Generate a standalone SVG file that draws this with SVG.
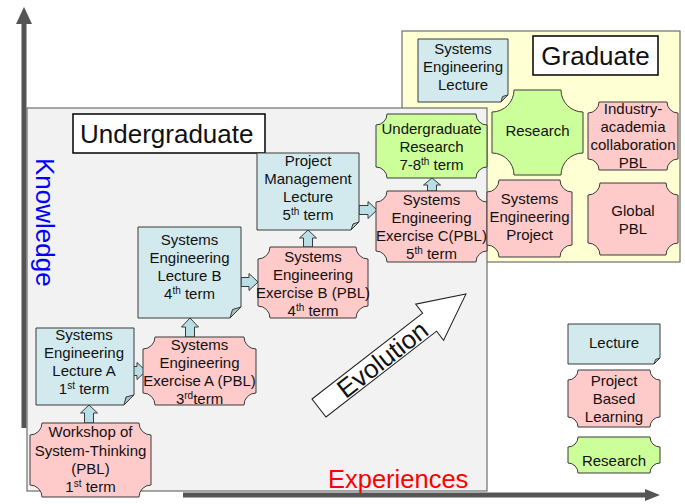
<svg xmlns="http://www.w3.org/2000/svg" width="685" height="504" viewBox="0 0 685 504">
<style>
text{font-family:"Liberation Sans",Arial,sans-serif;fill:#111;}
.t{font-size:15px;text-anchor:middle;}
.lec{fill:#d2eaed;stroke:#3a3a3a;stroke-width:1;}
.fold{fill:#a9c0c3;stroke:#3a3a3a;stroke-width:1;}
.pbl{fill:#ffcaca;stroke:#3a3a3a;stroke-width:1;}
.res{fill:#ccff99;stroke:#3a3a3a;stroke-width:1;}
.conn{fill:#b9dfe6;stroke:#3a3a3a;stroke-width:1;}
.axis{fill:#555;stroke:none;}
.lbl{fill:#fff;stroke:#000;stroke-width:1.5;}
.big{font-size:26px;}
</style>
<rect width="685" height="504" fill="#fff"/>
<!-- axes -->
<g id="axes">
<rect class="axis" x="21.5" y="22" width="5" height="406"/>
<polygon class="axis" points="24,7 32,24 16,24"/>
<rect class="axis" x="183" y="492.5" width="465" height="5"/>
<polygon class="axis" points="660,495 645,489 645,501"/>
</g>
<!-- graduate area -->
<g id="graduate-area">
<rect x="402" y="31" width="278" height="231" fill="#ffffd4" stroke="#6e6e6e" stroke-width="1.2"/>
<rect class="lbl" x="533" y="36" width="125" height="39"/>
<text class="big" x="595.5" y="65" text-anchor="middle">Graduate</text>
</g>
<!-- undergraduate area -->
<g id="undergraduate-area">
<rect x="27" y="108" width="460" height="383" fill="#f2f2f2" stroke="#6e6e6e" stroke-width="1.2"/>
<rect class="lbl" x="73" y="114" width="192" height="39"/>
<text class="big" x="80" y="143">Undergraduate</text>
</g>
<text x="36" y="158" transform="rotate(90 36 158)" style="font-size:26px;fill:#0000ff;">Knowledge</text>
<text x="328" y="488" style="font-size:25.5px;fill:#ff0000;">Experiences</text>
<!-- evolution arrow -->
<g id="evolution" transform="translate(319,408) rotate(-37.8)">
<path d="M0,-11.4 H140 V-22.8 L186,0 L140,22.8 V11.4 H0 Z" fill="#fff" stroke="#222" stroke-width="1"/>
<text x="80" y="9.5" text-anchor="middle" style="font-size:26px;">Evolution</text>
</g>
<!-- connectors -->
<g id="connectors">
<path class="conn" d="M89,405 L97.5,413 H93.5 V423 H84.5 V413 H80.5 Z"/>
<path class="conn" d="M190,318 L198.5,327 H194.5 V337 H185.5 V327 H181.5 Z"/>
<path class="conn" d="M308,230 L316.5,238 H312.5 V247 H303.5 V238 H299.5 Z"/>
<path class="conn" d="M432,178 L440.5,185 H436.5 V191 H427.5 V185 H423.5 Z"/>
<path class="conn" d="M146,371 L137,362.5 V366.5 H133 V375.5 H137 V379.5 Z"/>
<path class="conn" d="M258,282 L249,273.5 V277.5 H241 V286.5 H249 V290.5 Z"/>
<path class="conn" d="M377,210 L368,201.5 V205.5 H359 V214.5 H368 V218.5 Z"/>
</g>
<!-- undergraduate nodes -->
<g id="workshop">
<path class="pbl" d="M42,423 H139 A12 12 0 0 0 151,435 V485 A12 12 0 0 0 139,497 H42 A12 12 0 0 0 30,485 V435 A12 12 0 0 0 42,423 Z"/>
<text class="t" x="90.5" y="437">Workshop of</text>
<text class="t" x="90.5" y="456">System-Thinking</text>
<text class="t" x="90.5" y="474">(PBL)</text>
<text class="t" x="90.5" y="492">1<tspan font-size="10" dy="-5">st</tspan><tspan dy="5"> term</tspan></text>
</g>
<g id="lecture-a">
<path class="lec" d="M36,328 H134 V395 L124,405 H36 Z"/>
<path class="fold" d="M134,395 L124,405 L126,397 Z"/>
<text class="t" x="84" y="340">Systems</text>
<text class="t" x="84" y="358">Engineering</text>
<text class="t" x="84" y="376">Lecture A</text>
<text class="t" x="84" y="394">1<tspan font-size="10" dy="-5">st</tspan><tspan dy="5"> term</tspan></text>
</g>
<g id="exercise-a">
<path class="pbl" d="M155,337 H244 A12 12 0 0 0 256,349 V393 A12 12 0 0 0 244,405 H155 A12 12 0 0 0 143,393 V349 A12 12 0 0 0 155,337 Z"/>
<text class="t" x="199.5" y="350">Systems</text>
<text class="t" x="199.5" y="368">Engineering</text>
<text class="t" x="199.5" y="386">Exercise A (PBL)</text>
<text class="t" x="199.5" y="404">3<tspan font-size="10" dy="-5">rd</tspan><tspan dy="5">term</tspan></text>
</g>
<g id="lecture-b">
<path class="lec" d="M138,227 H241 V307 L230,318 H138 Z"/>
<path class="fold" d="M241,307 L230,318 L232.5,309.5 Z"/>
<text class="t" x="189.5" y="245">Systems</text>
<text class="t" x="189.5" y="263">Engineering</text>
<text class="t" x="189.5" y="281">Lecture B</text>
<text class="t" x="189.5" y="299">4<tspan font-size="10" dy="-5">th</tspan><tspan dy="5"> term</tspan></text>
</g>
<g id="exercise-b">
<path class="pbl" d="M270,247 H356 A12 12 0 0 0 368,259 V306 A12 12 0 0 0 356,318 H270 A12 12 0 0 0 258,306 V259 A12 12 0 0 0 270,247 Z"/>
<text class="t" x="313" y="262">Systems</text>
<text class="t" x="313" y="280">Engineering</text>
<text class="t" x="313" y="298">Exercise B (PBL)</text>
<text class="t" x="313" y="316">4<tspan font-size="10" dy="-5">th</tspan><tspan dy="5"> term</tspan></text>
</g>
<g id="pm-lecture">
<path class="lec" d="M257,153 H359 V222 L351,230 H257 Z"/>
<path class="fold" d="M359,222 L351,230 L353,224 Z"/>
<text class="t" x="308" y="166">Project</text>
<text class="t" x="308" y="184">Management</text>
<text class="t" x="308" y="202">Lecture</text>
<text class="t" x="308" y="220">5<tspan font-size="10" dy="-5">th</tspan><tspan dy="5"> term</tspan></text>
</g>
<g id="exercise-c">
<path class="pbl" d="M387,191 H476 A11 11 0 0 0 487,202 V251 A11 11 0 0 0 476,262 H387 A11 11 0 0 0 376,251 V202 A11 11 0 0 0 387,191 Z"/>
<text class="t" x="431.5" y="205">Systems</text>
<text class="t" x="431.5" y="223">Engineering</text>
<text class="t" x="431.5" y="241">Exercise C(PBL)</text>
<text class="t" x="431.5" y="259">5<tspan font-size="10" dy="-5">th</tspan><tspan dy="5"> term</tspan></text>
</g>
<g id="ug-research">
<path class="res" d="M387,114 H476 A11 11 0 0 0 487,125 V167 A11 11 0 0 0 476,178 H387 A11 11 0 0 0 376,167 V125 A11 11 0 0 0 387,114 Z"/>
<text class="t" x="431.5" y="134">Undergraduate</text>
<text class="t" x="431.5" y="152">Research</text>
<text class="t" x="431.5" y="170">7-8<tspan font-size="10" dy="-5">th</tspan><tspan dy="5"> term</tspan></text>
</g>
<!-- graduate nodes -->
<g id="grad-lecture">
<path class="lec" d="M418,39 H508 V95 L501,102 H418 Z"/>
<path class="fold" d="M508,95 L501,102 L502.5,96.5 Z"/>
<text class="t" x="463" y="54">Systems</text>
<text class="t" x="463" y="72">Engineering</text>
<text class="t" x="463" y="90">Lecture</text>
</g>
<g id="grad-research">
<path class="res" d="M514,90 H561 A22 22 0 0 0 583,112 V153 A22 22 0 0 0 561,175 H514 A22 22 0 0 0 492,153 V112 A22 22 0 0 0 514,90 Z"/>
<text class="t" x="537.5" y="136">Research</text>
</g>
<g id="industry-pbl">
<path class="pbl" d="M599,102 H667 A11 11 0 0 0 678,113 V159 A11 11 0 0 0 667,170 H599 A11 11 0 0 0 588,159 V113 A11 11 0 0 0 599,102 Z"/>
<text class="t" x="633" y="114">Industry-</text>
<text class="t" x="633" y="132">academia</text>
<text class="t" x="633" y="150">collaboration</text>
<text class="t" x="633" y="168">PBL</text>
</g>
<g id="se-project">
<path class="pbl" d="M499,180 H560 A12 12 0 0 0 572,192 V245 A12 12 0 0 0 560,257 H499 A12 12 0 0 0 487,245 V192 A12 12 0 0 0 499,180 Z"/>
<text class="t" x="529.5" y="204">Systems</text>
<text class="t" x="529.5" y="222">Engineering</text>
<text class="t" x="529.5" y="240">Project</text>
</g>
<g id="global-pbl">
<path class="pbl" d="M600,183 H666 A12 12 0 0 0 678,195 V243 A12 12 0 0 0 666,255 H600 A12 12 0 0 0 588,243 V195 A12 12 0 0 0 600,183 Z"/>
<text class="t" x="633" y="216">Global</text>
<text class="t" x="633" y="234">PBL</text>
</g>
<!-- legend -->
<g id="legend-lecture">
<path class="lec" d="M568,324 H660 V358 L654,364 H568 Z"/>
<path class="fold" d="M660,358 L654,364 L655.5,359.5 Z"/>
<text class="t" x="614" y="348">Lecture</text>
</g>
<g id="legend-pbl">
<path class="pbl" d="M578,370 H650 A10 10 0 0 0 660,380 V417 A10 10 0 0 0 650,427 H578 A10 10 0 0 0 568,417 V380 A10 10 0 0 0 578,370 Z"/>
<text class="t" x="614" y="386">Project</text>
<text class="t" x="614" y="404">Based</text>
<text class="t" x="614" y="422">Learning</text>
</g>
<g id="legend-research">
<path class="res" d="M578,437 H650 A10 10 0 0 0 660,447 V463 A10 10 0 0 0 650,473 H578 A10 10 0 0 0 568,463 V447 A10 10 0 0 0 578,437 Z"/>
<text class="t" x="614" y="466">Research</text>
</g>
</svg>
